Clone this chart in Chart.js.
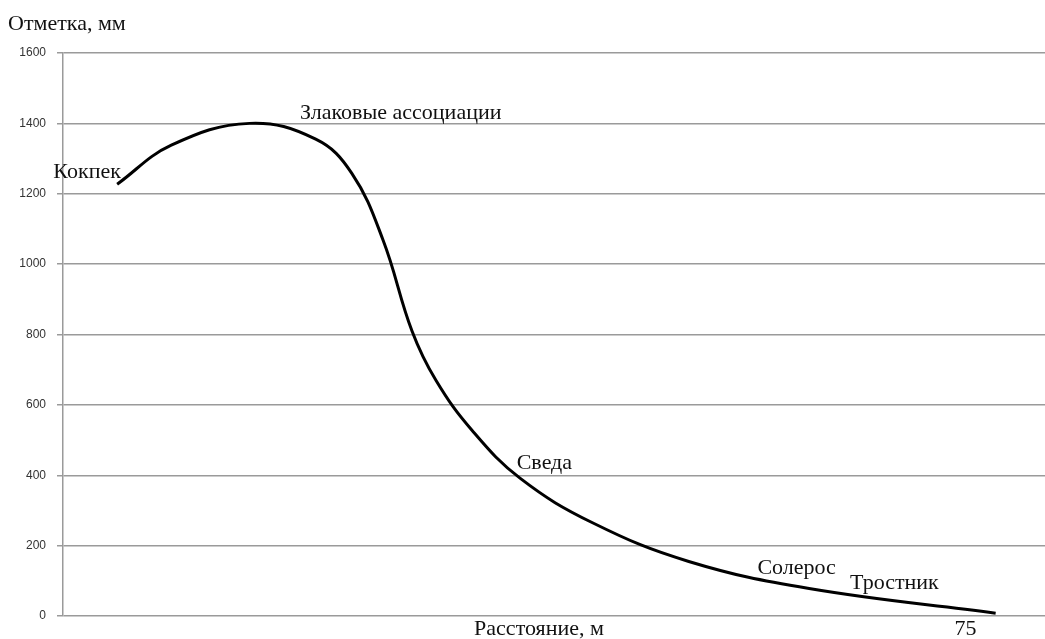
<!DOCTYPE html>
<html>
<head>
<meta charset="utf-8">
<script src="https://cdn.jsdelivr.net/npm/chart.js@4/dist/chart.umd.min.js"></script>
<style>
    html, body { margin: 0; padding: 0; background: #fff; }
    #wrap { width: 1045px; height: 639px; position: relative; }
</style>
</head>
<body>
<div id="wrap"><canvas id="profile"></canvas></div>
<script>
// Profile data: distance (m) and elevation (mm)
const distance = [4.5, 9.0, 15.5, 21.0, 24.0, 26.6, 29.0, 31.0, 34.0, 38.0, 44.0, 52.0, 62.0, 77.5];
const elevation = [1227, 1338, 1400, 1355, 1258, 1068, 810, 669, 527, 391, 265, 155, 78, 8];

// Y axis ticks
const yTicks = [0, 200, 400, 600, 800, 1000, 1200, 1400, 1600];

// Vegetation labels, anchored at (distance, elevation) = left / middle of text
const zoneNames = ['Кокпек', 'Злаковые ассоциации', 'Сведа', 'Солерос', 'Тростник'];
const zoneX = [-0.8, 19.7, 37.7, 57.7, 65.4];
const zoneY = [1261, 1429, 435, 136, 94];

const xTickLabel = 75;
const yTitle = 'Отметка, мм';
const xTitle = 'Расстояние, м';

const serif = '"Liberation Serif", "Times New Roman", serif';

// Draws titles, the single x label and the zone names
const textPlugin = {
    id: 'profileText',
    afterDraw(chart) {
        const ctx = chart.ctx;
        const x = chart.scales.x;
        const y = chart.scales.y;
        ctx.save();
        ctx.fillStyle = '#111';
        ctx.font = '22px ' + serif;
        ctx.textBaseline = 'middle';
        ctx.textAlign = 'left';
        zoneNames.forEach((name, i) => {
            ctx.fillText(name, x.getPixelForValue(zoneX[i]), y.getPixelForValue(zoneY[i]));
        });

        ctx.fillText(yTitle, 8, 24);

        const bottom = chart.chartArea.bottom;
        ctx.textAlign = 'center';
        ctx.fillText(xTitle, 539, bottom + 13);
        ctx.fillText(String(xTickLabel), x.getPixelForValue(xTickLabel), bottom + 13);
        ctx.restore();
    }
};

const points = distance.map((d, i) => ({ x: d, y: elevation[i] }));

new Chart(document.getElementById('profile'), {
    type: 'line',
    data: {
        datasets: [{
            data: points,
            borderColor: '#000',
            borderWidth: 3,
            pointRadius: 0,
            tension: 0.4,
            fill: false
        }]
    },
    options: {
        responsive: true,
        maintainAspectRatio: false,
        animation: false,
        layout: { padding: { top: 53, bottom: 23, right: 0, left: 0 } },
        plugins: {
            legend: { display: false },
            tooltip: { enabled: false }
        },
        scales: {
            x: {
                type: 'linear',
                min: 0,
                max: 81.6,
                display: false
            },
            y: {
                min: 0,
                max: 1600,
                afterBuildTicks: function(scale) {
                    scale.ticks = yTicks.map(v => ({ value: v }));
                },
                afterFit: function(scale) {
                    scale.width = 63;
                },
                grid: {
                    color: '#9a9a9a',
                    lineWidth: 1.5,
                    tickLength: 6,
                    tickColor: '#9a9a9a'
                },
                border: { color: '#9a9a9a', width: 1.5 },
                ticks: {
                    color: '#333',
                    padding: 11,
                    font: { family: '"Liberation Sans", Arial, sans-serif', size: 12 },
                    callback: function(value) {
                        return String(value);
                    }
                }
            }
        }
    },
    plugins: [textPlugin]
});
</script>
</body>
</html>
